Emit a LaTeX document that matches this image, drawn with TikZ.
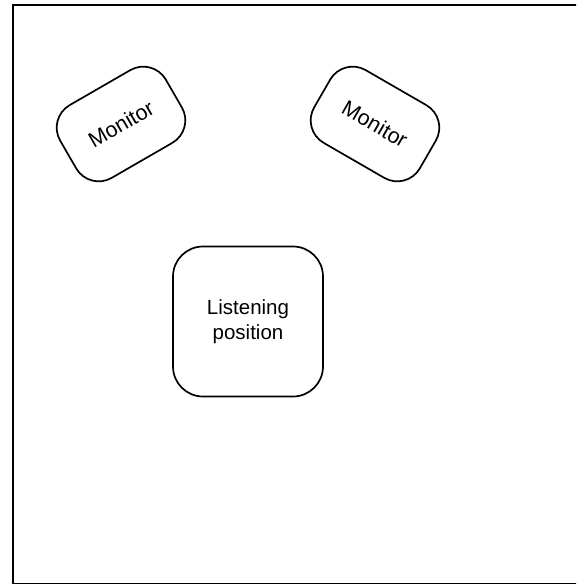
\documentclass[tikz,border=0pt]{standalone}
\usepackage{fontspec}
\setmainfont{Liberation Sans}
\begin{document}
\begin{tikzpicture}[x=1pt,y=-1pt,
  boxstyle/.style={draw=black, line width=1.7pt, rounded corners=26pt, inner sep=0pt, align=center, font=\fontsize{20.5}{25}\selectfont},
  monitorbox/.style={boxstyle, minimum width=122pt, minimum height=84pt, font=\fontsize{21.5}{25}\selectfont},
  listenbox/.style={boxstyle, minimum width=150pt, minimum height=150pt, rounded corners=30pt}]
\useasboundingbox (0,0) rectangle (576,584);
\clip (0,0) rectangle (576,584);
\draw[line width=2.5pt] (13,5) rectangle (595,584.6);
\node[monitorbox, rotate=30] (monL) at (121,124) {Monitor};
\node[monitorbox, rotate=-30] (monR) at (375,124) {Monitor};
\node[listenbox] (listen) at (248,321.5) {Listening\\position};
\end{tikzpicture}
\end{document}
